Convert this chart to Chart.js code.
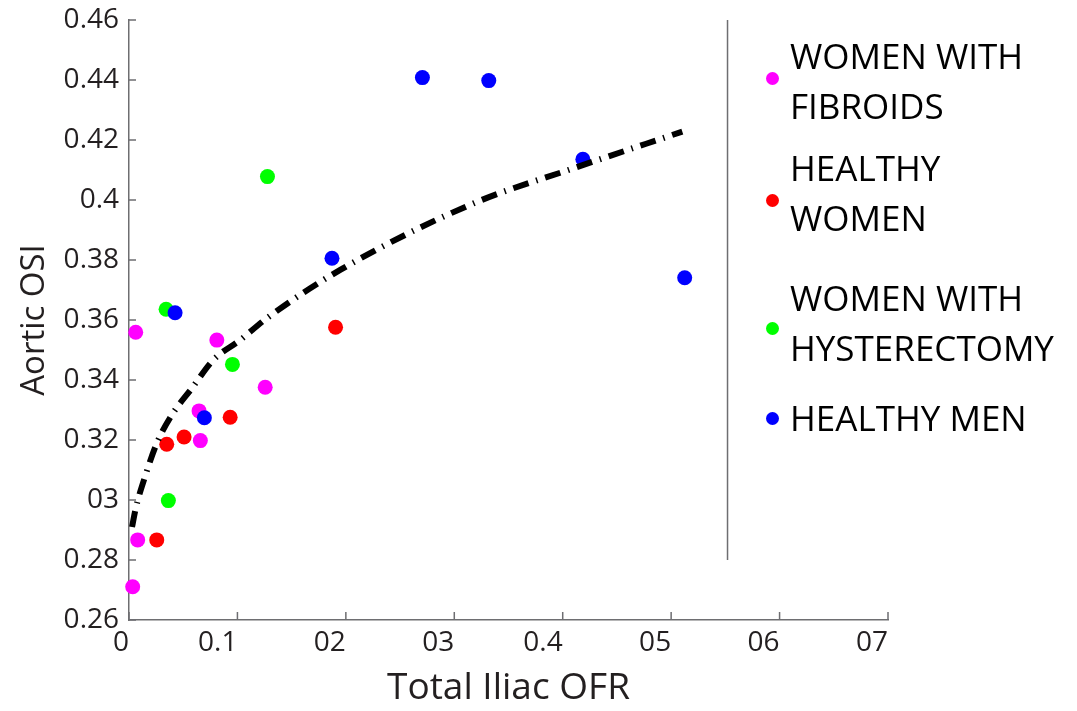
<!DOCTYPE html>
<html>
<head>
<meta charset="utf-8">
<title>Aortic OSI vs Total Iliac OFR</title>
<script src="https://cdn.jsdelivr.net/npm/chart.js@4.4.1/dist/chart.umd.min.js"></script>
<style>
  html, body { margin: 0; padding: 0; background: #fff; }
  #wrap { position: relative; width: 1077px; height: 711px; overflow: hidden; }
  #legend { position: absolute; left: 0; top: 0; font-family: "Open Sans", sans-serif; font-size: 35px; color: #000; }
  .item { position: absolute; left: 790px; line-height: 50px; white-space: nowrap; }
  .dot { position: absolute; left: -24px; width: 13px; height: 13px; border-radius: 50%; }
</style>
</head>
<body>
<div id="wrap">
  <canvas id="chart" width="1077" height="711"></canvas>
  <div id="legend"></div>
</div>
<script>
'use strict';

//axis ticks

const xTickValues = [0, 0.1, 0.2, 0.3, 0.4, 0.5, 0.6, 0.7];
const xTickLabels = ['0', '0.1', '02', '03', '0.4', '05', '06', '07'];
const yTickValues = [0.26, 0.28, 0.30, 0.32, 0.34, 0.36, 0.38, 0.40, 0.42, 0.44, 0.46];
const yTickLabels = ['0.26', '0.28', '03', '0.32', '0.34', '0.36', '0.38', '0.4', '0.42', '0.44', '0.46'];

//series

const fibroidsX = [0.0062, 0.081, 0.1256, 0.0646, 0.0658, 0.008, 0.0034];
const fibroidsY = [0.3559, 0.3533, 0.3376, 0.3297, 0.3198, 0.2867, 0.2711];

const healthyWomenX = [0.0933, 0.0508, 0.0348, 0.0256, 0.1905];
const healthyWomenY = [0.3276, 0.321, 0.3186, 0.2867, 0.3576];

const hysterectomyX = [0.0342, 0.0954, 0.0363, 0.1277];
const hysterectomyY = [0.3636, 0.3452, 0.2998, 0.4078];

const healthyMenX = [0.0425, 0.0695, 0.1872, 0.2706, 0.3318, 0.4186, 0.5125];
const healthyMenY = [0.3624, 0.3274, 0.3806, 0.4408, 0.4398, 0.4136, 0.3741];

//fitted trend curve

const fitX = [0.0028, 0.0062, 0.0148, 0.0256, 0.0394, 0.0579, 0.0778, 0.1025, 0.1271, 0.1948, 0.3179, 0.4102, 0.5103];
const fitY = [0.291, 0.2972, 0.3078, 0.3189, 0.3283, 0.3372, 0.3467, 0.3533, 0.3606, 0.3767, 0.3989, 0.4106, 0.4228];

//legend separator

const dividerX = [0.552, 0.552];
const dividerY = [0.28, 0.46];

const seriesLabels = [['WOMEN WITH', 'FIBROIDS'], ['HEALTHY', 'WOMEN'], ['WOMEN WITH', 'HYSTERECTOMY'], ['HEALTHY MEN']];
const seriesColors = ['rgb(255,0,255)', 'rgb(255,0,0)', 'rgb(0,255,0)', 'rgb(0,0,255)'];

//legend item placement (px)
const legendTops = [31, 143, 273, 393];
const legendDotShift = [-3, 7, 5, 0];

const axisColor = 'rgb(110,110,113)';
const textColor = 'rgb(35,31,32)';

function toPoints(xs, ys) {
    return xs.map((x, i) => ({ x: x, y: ys[i] }));
}

function scatterSet(i, xs, ys, order) {
    return {
        label: seriesLabels[i].join(' '),
        legendIndex: i,
        data: toPoints(xs, ys),
        backgroundColor: seriesColors[i],
        borderColor: seriesColors[i],
        borderWidth: 0,
        pointRadius: 7.5,
        pointHoverRadius: 7.5,
        clip: false,
        order: order
    };
}

//inward tick marks on both axes
const inwardTicks = {
    id: 'inwardTicks',
    beforeDatasetsDraw(chart) {
        const ctx = chart.ctx;
        const xs = chart.scales.x;
        const ys = chart.scales.y;
        ctx.save();
        ctx.strokeStyle = axisColor;
        ctx.lineWidth = 1.5;
        ctx.beginPath();
        xTickValues.forEach(v => {
            const px = xs.getPixelForValue(v);
            ctx.moveTo(px, xs.top);
            ctx.lineTo(px, xs.top - 8);
        });
        yTickValues.forEach(v => {
            const py = ys.getPixelForValue(v);
            ctx.moveTo(ys.right, py);
            ctx.lineTo(ys.right + 7, py);
        });
        ctx.stroke();
        ctx.restore();
    }
};

//html legend with multi-line labels
const htmlLegend = {
    id: 'htmlLegend',
    afterUpdate(chart) {
        const box = document.getElementById('legend');
        box.innerHTML = '';
        chart.data.datasets
            .filter(ds => ds.legendIndex !== undefined)
            .sort((a, b) => a.legendIndex - b.legendIndex)
            .forEach(ds => {
                const n = ds.legendIndex;
                const item = document.createElement('div');
                item.className = 'item';
                item.style.top = legendTops[n] + 'px';
                const dot = document.createElement('span');
                dot.className = 'dot';
                dot.style.background = ds.backgroundColor;
                dot.style.top = 'calc(50% - 6.5px + ' + legendDotShift[n] + 'px)';
                item.appendChild(dot);
                seriesLabels[n].forEach(line => {
                    const row = document.createElement('div');
                    row.textContent = line;
                    item.appendChild(row);
                });
                box.appendChild(item);
            });
    }
};

const chart = new Chart(document.getElementById('chart'), {
    type: 'scatter',
    data: {
        datasets: [
            {
                label: 'Fit',
                data: toPoints(fitX, fitY),
                showLine: true,
                borderColor: '#000',
                borderWidth: 6,
                borderDash: [16, 8, 1.5, 8],
                borderCapStyle: 'butt',
                cubicInterpolationMode: 'monotone',
                pointRadius: 0,
                pointHoverRadius: 0,
                order: 0
            },
            scatterSet(3, healthyMenX, healthyMenY, 1),
            scatterSet(2, hysterectomyX, hysterectomyY, 2),
            scatterSet(1, healthyWomenX, healthyWomenY, 3),
            scatterSet(0, fibroidsX, fibroidsY, 4),
            {
                label: 'Divider',
                data: toPoints(dividerX, dividerY),
                showLine: true,
                borderColor: axisColor,
                borderWidth: 1.5,
                pointRadius: 0,
                pointHoverRadius: 0,
                order: 5
            }
        ]
    },
    options: {
        responsive: false,
        animation: false,
        events: [],
        layout: { padding: { top: 20, right: 189, left: 0, bottom: 0 } },
        plugins: {
            legend: { display: false },
            tooltip: { enabled: false }
        },
        scales: {
            x: {
                type: 'linear',
                min: 0,
                max: 0.7,
                afterFit: s => { s.height = 91; },
                afterBuildTicks: s => { s.ticks = xTickValues.map(v => ({ value: v })); },
                grid: { drawOnChartArea: false, drawTicks: true, tickLength: 6, tickColor: 'rgba(0,0,0,0)' },
                border: { display: true, color: axisColor, width: 1.5 },
                ticks: {
                    color: textColor,
                    align: 'end',
                    padding: 0,
                    maxRotation: 0,
                    autoSkip: false,
                    font: { family: 'Open Sans', size: 28 },
                    callback: (v, i) => xTickLabels[i]
                },
                title: {
                    display: true,
                    text: 'Total Iliac OFR',
                    color: textColor,
                    padding: { top: 0, bottom: 0 },
                    font: { family: 'Open Sans', size: 37 }
                }
            },
            y: {
                type: 'linear',
                min: 0.26,
                max: 0.46,
                afterFit: s => { s.width = 129; },
                afterBuildTicks: s => { s.ticks = yTickValues.map(v => ({ value: v })); },
                grid: { drawOnChartArea: false, drawTicks: true, tickLength: 10, tickColor: 'rgba(0,0,0,0)' },
                border: { display: true, color: axisColor, width: 1.5 },
                ticks: {
                    color: textColor,
                    padding: 0,
                    autoSkip: false,
                    font: { family: 'Open Sans', size: 28 },
                    callback: (v, i) => yTickLabels[i]
                },
                title: {
                    display: true,
                    text: 'Aortic OSI',
                    color: textColor,
                    padding: { top: 15, bottom: 0 },
                    font: { family: 'Open Sans', size: 33 }
                }
            }
        }
    },
    plugins: [inwardTicks, htmlLegend]
});
</script>
</body>
</html>
